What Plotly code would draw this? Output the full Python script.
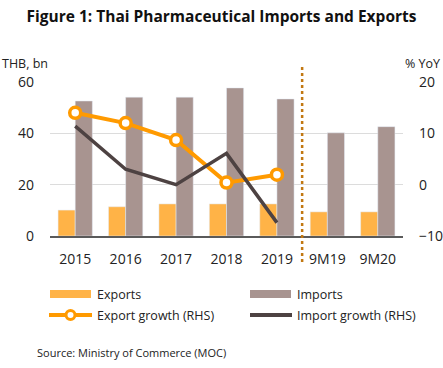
import plotly.graph_objects as go

categories = ["2015", "2016", "2017", "2018", "2019", "9M19", "9M20"]
exports = [10.1, 11.4, 12.5, 12.5, 12.5, 9.4, 9.4]
imports = [52.6, 54.1, 54.1, 57.7, 53.4, 40.2, 42.6]
growth_cats = ["2015", "2016", "2017", "2018", "2019"]
export_growth = [14.0, 12.0, 8.7, 0.4, 1.95]
import_growth = [11.4, 3.0, 0.0, 6.1, -7.4]
left_ticks = [0, 20, 40, 60]
right_ticks = [-10, 0, 10, 20]

C_EXP = "#FFB347"
C_IMP = "#A89490"
C_EG = "#FF9A00"
C_IG = "#4D4242"
C_DOT = "#C27812"
FONT = "Open Sans"

W, H = 443, 368
L, R, T, B = 50, 40, 82, 132
PW = W - L - R
PH = H - T - B


def px(x):
    return (x - L) / PW


def py(y):
    return (H - B - y) / PH


fig = go.Figure()
fig.add_trace(go.Bar(x=categories, y=exports, marker_color=C_EXP, name="Exports"))
fig.add_trace(go.Bar(x=categories, y=imports, marker_color=C_IMP, name="Imports"))
fig.add_trace(go.Scatter(x=growth_cats, y=export_growth, yaxis="y2", mode="lines+markers",
                         line=dict(color=C_EG, width=4),
                         marker=dict(size=11, color="white", line=dict(color=C_EG, width=3.5)),
                         name="Export growth (RHS)"))
fig.add_trace(go.Scatter(x=growth_cats, y=import_growth, yaxis="y2", mode="lines",
                         line=dict(color=C_IG, width=3.5), name="Import growth (RHS)"))

shapes = [
    dict(type="line", xref="x", yref="paper", x0=4.5, x1=4.5, y0=py(262), y1=py(66),
         line=dict(color=C_DOT, width=2.5, dash="dot")),
    # manual legend
    dict(type="rect", xref="paper", yref="paper", x0=px(50), x1=px(91), y0=py(298), y1=py(290),
         fillcolor=C_EXP, line=dict(width=0)),
    dict(type="rect", xref="paper", yref="paper", x0=px(250), x1=px(291), y0=py(298), y1=py(290),
         fillcolor=C_IMP, line=dict(width=0)),
    dict(type="line", xref="paper", yref="paper", x0=px(49), x1=px(92), y0=py(315), y1=py(315),
         line=dict(color=C_EG, width=4)),
    dict(type="circle", xref="paper", yref="paper", x0=px(66), x1=px(75), y0=py(319.5), y1=py(310.5),
         fillcolor="white", line=dict(color=C_EG, width=3)),
    dict(type="line", xref="paper", yref="paper", x0=px(250), x1=px(292), y0=py(315), y1=py(315),
         line=dict(color=C_IG, width=4)),
]

ann_font = dict(family=FONT, size=12.5, color="#222")
annotations = [
    dict(text="THB, bn", xref="paper", yref="paper", x=px(0), y=py(63), xanchor="left", yanchor="middle",
         showarrow=False, font=dict(family=FONT, size=12.5, color="#222")),
    dict(text="% YoY", xref="paper", yref="paper", x=px(403), y=py(63), xanchor="left", yanchor="middle",
         showarrow=False, font=dict(family=FONT, size=12.5, color="#222")),
    dict(text="Exports", xref="paper", yref="paper", x=px(95), y=py(294), xanchor="left", yanchor="middle",
         showarrow=False, font=ann_font),
    dict(text="Imports", xref="paper", yref="paper", x=px(295), y=py(294), xanchor="left", yanchor="middle",
         showarrow=False, font=ann_font),
    dict(text="Export growth (RHS)", xref="paper", yref="paper", x=px(95), y=py(315), xanchor="left",
         yanchor="middle", showarrow=False, font=ann_font),
    dict(text="Import growth (RHS)", xref="paper", yref="paper", x=px(295), y=py(315), xanchor="left",
         yanchor="middle", showarrow=False, font=ann_font),
    dict(text="Source: Ministry of Commerce (MOC)", xref="paper", yref="paper", x=px(35), y=py(352),
         xanchor="left", yanchor="middle", showarrow=False, font=dict(family=FONT, size=11, color="#222")),
]

fig.update_layout(
    width=W, height=H,
    margin=dict(l=L, r=R, t=T, b=B, pad=0, autoexpand=False),
    paper_bgcolor="white", plot_bgcolor="white",
    title=dict(text="<b>Figure 1: Thai Pharmaceutical Imports and Exports</b>", x=0.5, xanchor="center",
               xref="container", y=1 - 17 / H, yanchor="middle", yref="container",
               font=dict(family=FONT, size=15.5, color="#111")),
    showlegend=False,
    barmode="group", bargap=0.32, bargroupgap=0,
    font=dict(family=FONT, size=14, color="#222"),
    xaxis=dict(type="category", showgrid=False, showline=True, linecolor="#5a5a5a", linewidth=1.5,
               ticks="", ticklabelstandoff=9, automargin=False,
               tickfont=dict(family=FONT, size=14, color="#222"), fixedrange=True),
    yaxis=dict(range=[0, 60], tickvals=left_ticks, showgrid=True, gridcolor="#DCDCDC", gridwidth=1,
               zeroline=False, showline=False, ticks="", ticklabelstandoff=15, automargin=False,
               tickfont=dict(family=FONT, size=14, color="#222")),
    yaxis2=dict(range=[-10, 20], tickvals=right_ticks, overlaying="y", side="right", showgrid=False,
                zeroline=False, showline=False, ticks="", ticklabelstandoff=15, automargin=False,
                tickfont=dict(family=FONT, size=14, color="#222")),
    shapes=shapes,
    annotations=annotations,
)

fig.write_html("out.html", config={"displayModeBar": False},
               post_script="document.body.style.margin='0';document.body.style.overflow='hidden';")
